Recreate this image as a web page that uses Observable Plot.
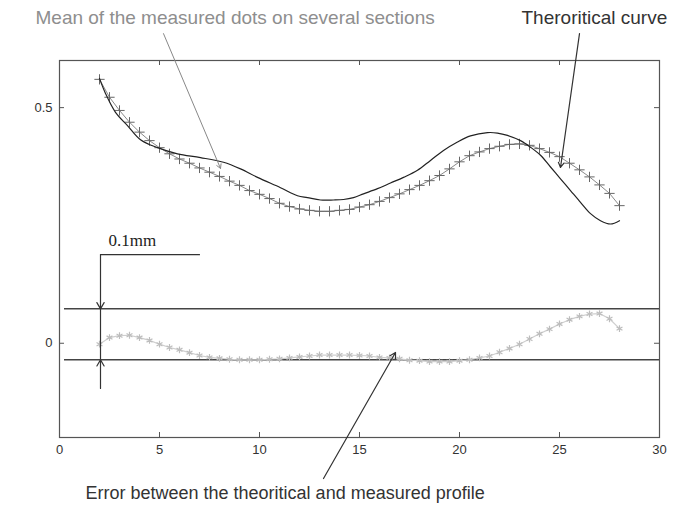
<!DOCTYPE html>
<html><head><meta charset="utf-8">
<script src="https://cdn.jsdelivr.net/npm/d3@7"></script>
<script src="https://cdn.jsdelivr.net/npm/@observablehq/plot@0.6"></script>
<style>body{margin:0;background:#fff;} svg{display:block;}</style>
</head><body><div id="chart"></div>
<script>
const xTicks = [0, 5, 10, 15, 20, 25, 30];
const yTicks = [0, 0.5];

// sample positions of the measured dots (mm)
const measX = [2,2.5,3,3.5,4,4.5,5,5.5,6,6.5,7,7.5,8,8.5,9,9.5,10,10.5,11,11.5,12,12.5,13,13.5,14,14.5,15,15.5,16,16.5,17,17.5,18,18.5,19,19.5,20,20.5,21,21.5,22,22.5,23,23.5,24,24.5,25,25.5,26,26.5,27,27.5,28];
// mean of measured dots
const measY = [0.560,0.522,0.494,0.469,0.448,0.430,0.415,0.402,0.391,0.382,0.372,0.363,0.354,0.344,0.335,0.324,0.316,0.307,0.297,0.290,0.285,0.282,0.280,0.280,0.282,0.284,0.289,0.294,0.301,0.309,0.317,0.326,0.335,0.345,0.356,0.370,0.385,0.398,0.406,0.413,0.418,0.422,0.423,0.420,0.413,0.405,0.396,0.382,0.368,0.353,0.336,0.318,0.292];
// error between theoretical and measured profile
const errY = [-0.002,0.012,0.016,0.017,0.012,0.006,-0.002,-0.009,-0.014,-0.020,-0.026,-0.030,-0.032,-0.034,-0.035,-0.035,-0.035,-0.034,-0.033,-0.031,-0.029,-0.027,-0.025,-0.025,-0.025,-0.025,-0.026,-0.027,-0.030,-0.031,-0.033,-0.036,-0.037,-0.039,-0.039,-0.039,-0.037,-0.035,-0.031,-0.027,-0.019,-0.011,-0.002,0.009,0.020,0.030,0.041,0.050,0.057,0.062,0.063,0.052,0.031];
// theoretical curve
const theoX = [2.0,2.3,2.8,3.4,4.05,4.9,5.9,7.05,8.2,9.05,9.9,11.05,11.9,12.4,13.05,13.7,14.2,14.7,15.2,15.9,16.55,17.2,17.9,18.55,19.2,19.9,20.55,21.4,21.9,22.4,23.05,23.55,24.05,24.55,25.05,25.55,26.05,26.55,27.05,27.55,28.0];
const theoY = [0.562,0.530,0.490,0.462,0.432,0.415,0.402,0.394,0.384,0.370,0.352,0.330,0.313,0.309,0.304,0.304,0.305,0.309,0.317,0.328,0.340,0.352,0.367,0.388,0.409,0.427,0.440,0.447,0.446,0.441,0.430,0.416,0.399,0.374,0.349,0.324,0.299,0.275,0.260,0.253,0.260];
// tolerance band (0.1 mm)
const bandY = [0.073, -0.035];

const meas = measX.map((x, i) => ({x, y: measY[i]}));
const err = measX.map((x, i) => ({x, y: errY[i]}));
const theo = theoX.map((x, i) => ({x, y: theoY[i]}));

const font = "'Liberation Sans', Arial, sans-serif";

const chart = Plot.plot({
  width: 681, height: 506,
  marginTop: 60, marginBottom: 69, marginLeft: 59, marginRight: 22,
  x: {domain: [0, 30], axis: null},
  y: {domain: [-0.2, 0.6], axis: null},
  style: {fontFamily: font, color: "#333", background: "#fff"},
  marks: [
    Plot.frame({stroke: "#555", strokeWidth: 1.2}),
    Plot.axisX({ticks: xTicks, tickSize: 0, tickPadding: 7, fontSize: 13, label: null, tickFormat: d => d}),
    Plot.axisY({ticks: yTicks, tickSize: 0, tickPadding: 7, fontSize: 13, label: null, tickFormat: d => d}),
    Plot.ruleX(xTicks, {insetTop: 372, stroke: "#555"}),
    Plot.ruleX(xTicks, {insetBottom: 372, stroke: "#555"}),
    Plot.ruleY(yTicks, {insetRight: 595, stroke: "#555"}),
    Plot.ruleY(yTicks, {insetLeft: 595, stroke: "#555"}),
    // tolerance band lines
    Plot.ruleY(bandY, {x1: 0.25, x2: 30, stroke: "#444", strokeWidth: 1.5}),
    // error curve
    Plot.line(err, {x: "x", y: "y", stroke: "#cfcfcf", strokeWidth: 1.2}),
    Plot.dot(err, {x: "x", y: "y", symbol: "asterisk", r: 3.2, stroke: "#bdbdbd", strokeWidth: 1.2}),
    // measured mean
    Plot.line(meas, {x: "x", y: "y", stroke: "#8a8a8a", strokeWidth: 1}),
    Plot.dot(meas, {x: "x", y: "y", symbol: "plus", r: 3.4, stroke: "#666", strokeWidth: 1}),
    // theoretical curve
    Plot.line(theo, {x: "x", y: "y", stroke: "#222", strokeWidth: 1.2, curve: "catmull-rom"}),
    // 0.1 mm bracket
    Plot.line([{x: 7.0, y: 0.188}, {x: 2.05, y: 0.188}], {x: "x", y: "y", stroke: "#333", strokeWidth: 1.2}),
    Plot.arrow([0], {x1: 2.05, y1: 0.188, x2: 2.05, y2: bandY[0], stroke: "#333", strokeWidth: 1.2, headLength: 9}),
    Plot.ruleX([2.05], {y1: bandY[0], y2: bandY[1], stroke: "#333", strokeWidth: 1.2}),
    Plot.arrow([0], {x1: 2.05, y1: -0.096, x2: 2.05, y2: bandY[1], stroke: "#333", strokeWidth: 1.2, headLength: 9}),
    Plot.text(["0.1mm"], {x: 2.45, y: 0.218, text: d => d, textAnchor: "start", fontSize: 17, fontFamily: "'Liberation Serif', 'Times New Roman', serif", fill: "#222"}),
    // annotation leaders
    Plot.arrow([0], {x1: 5.2, y1: 0.657, x2: 8.05, y2: 0.371, stroke: "#888", strokeWidth: 1, headLength: 7}),
    Plot.arrow([0], {x1: 26.0, y1: 0.657, x2: 25.05, y2: 0.373, stroke: "#333", strokeWidth: 1.2, headLength: 7}),
    Plot.arrow([0], {x1: 13.2, y1: -0.287, x2: 16.8, y2: -0.0196, stroke: "#333", strokeWidth: 1.2, headLength: 8}),
    // annotation texts
    Plot.text(["Mean of the measured dots on several sections"], {x: -1.2, y: 0.69, text: d => d, textAnchor: "start", fontSize: 19, fill: "#8e8e8e"}),
    Plot.text(["Theroritical curve"], {x: 23.1, y: 0.69, text: d => d, textAnchor: "start", fontSize: 19, fill: "#333"}),
    Plot.text(["Error between the theoritical and measured profile"], {x: 1.3, y: -0.318, text: d => d, textAnchor: "start", fontSize: 18, fill: "#333"})
  ]
});
document.getElementById("chart").append(chart);
</script>
</body></html>
